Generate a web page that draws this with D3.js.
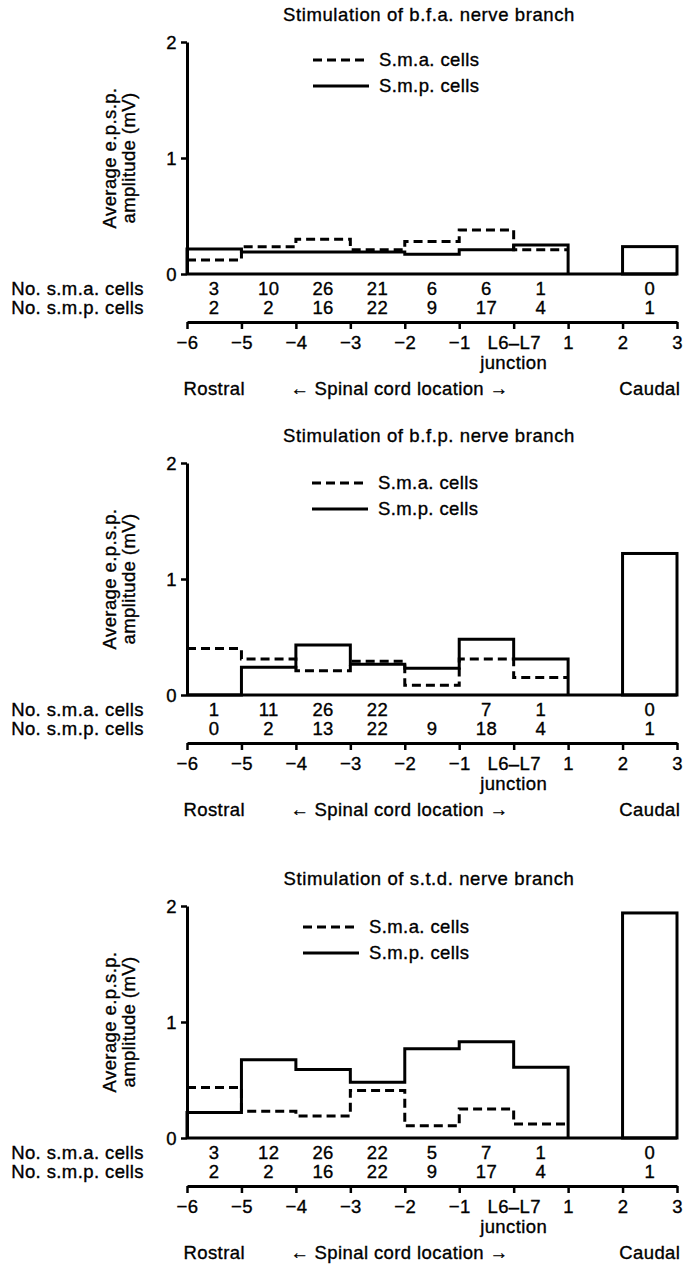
<!DOCTYPE html>
<html>
<head>
<meta charset="utf-8">
<script src="https://cdn.jsdelivr.net/npm/d3@7"></script>
<style>
  body { margin: 0; background: #fff; }
  svg text { font-family: "Liberation Sans", Arial, sans-serif; font-size: 18.5px; fill: #000; stroke: #000; stroke-width: 0.35px; letter-spacing: 0.4px; }
  .title { letter-spacing: 0.6px; }
  .step { fill: none; stroke: #000; stroke-width: 3; stroke-linejoin: miter; }
  .sma { stroke-dasharray: 9 5; }
  .axis .domain { stroke: #000; stroke-width: 3; }
  .axis .tick line { stroke: #000; stroke-width: 2.5; }
</style>
</head>
<body>
<svg width="683" height="1276"></svg>
<script>
// bins along the cord, in segments relative to the L6-L7 junction
const binStarts = [-6, -5, -4, -3, -2, -1, 0, 2];
const xTicks = [-6, -5, -4, -3, -2, -1, 0, 1, 2, 3];
const xTickLabels = ["−6", "−5", "−4", "−3", "−2", "−1", "L6–L7", "1", "2", "3"];
const yTicks = [0, 1, 2];

const titles = [
  "Stimulation of b.f.a. nerve branch",
  "Stimulation of b.f.p. nerve branch",
  "Stimulation of s.t.d. nerve branch"
];

// average e.p.s.p. amplitude (mV), last entry is the caudal bin
const bfaSma = [0.12, 0.235, 0.30, 0.21, 0.28, 0.38, 0.21, null];
const bfaSmp = [0.215, 0.19, 0.19, 0.19, 0.17, 0.21, 0.25, 0.236];
const bfpSma = [0.40, 0.31, 0.21, 0.29, 0.085, 0.31, 0.15, null];
const bfpSmp = [null, 0.24, 0.43, 0.265, 0.23, 0.48, 0.31, 1.22];
const stdSma = [0.435, 0.23, 0.19, 0.41, 0.106, 0.25, 0.12, null];
const stdSmp = [0.22, 0.675, 0.59, 0.48, 0.77, 0.83, 0.61, 1.94];

// cell counts per bin
const bfaSmaN = ["3", "10", "26", "21", "6", "6", "1", "0"];
const bfaSmpN = ["2", "2", "16", "22", "9", "17", "4", "1"];
const bfpSmaN = ["1", "11", "26", "22", "", "7", "1", "0"];
const bfpSmpN = ["0", "2", "13", "22", "9", "18", "4", "1"];
const stdSmaN = ["3", "12", "26", "22", "5", "7", "1", "0"];
const stdSmpN = ["2", "2", "16", "22", "9", "17", "4", "1"];

// panel layout
const panels = [
  { title: titles[0], sma: bfaSma, smp: bfaSmp, smaN: bfaSmaN, smpN: bfaSmpN, top: 42, legendX: 313, legendY: 18 },
  { title: titles[1], sma: bfpSma, smp: bfpSmp, smaN: bfpSmaN, smpN: bfpSmpN, top: 463, legendX: 312, legendY: 20 },
  { title: titles[2], sma: stdSma, smp: stdSmp, smaN: stdSmaN, smpN: stdSmpN, top: 906, legendX: 303, legendY: 21 }
];
const plotHeight = 232;

const svg = d3.select("svg");
svg.append("rect").attr("width", 683).attr("height", 1276).attr("fill", "#fff");

const x = d3.scaleLinear().domain([-6, 3]).range([187, 677]);

const line = d3.line()
  .x(d => x(d[0]))
  .y(d => d[1]);

// turn rostral bins into step outline points
function stepPoints(values, y, closed) {
  const pts = [];
  values.slice(0, 7).forEach((v, i) => {
    const val = v == null ? 0 : v;
    pts.push([binStarts[i], y(val)], [binStarts[i] + 1, y(val)]);
  });
  if (closed) {
    pts.unshift([binStarts[0], y(0)]);
    pts.push([binStarts[6] + 1, y(0)]);
  }
  return pts;
}

panels.forEach(p => {
  const y = d3.scaleLinear().domain([0, 2]).range([p.top + plotHeight, p.top]);
  const g = svg.append("g");
  const base = p.top + plotHeight;
  const axisY = base + 48;

  // title
  g.append("text")
    .attr("class", "title")
    .attr("x", 429)
    .attr("y", p.top - 21)
    .attr("text-anchor", "middle")
    .text(p.title);

  // y axis
  const yAxis = g.append("g")
    .attr("class", "axis")
    .attr("transform", "translate(" + x(-6) + ",0)")
    .call(d3.axisLeft(y).tickValues(yTicks).tickSize(6).tickSizeOuter(0).tickPadding(4).tickFormat(d3.format("d")));
  yAxis.attr("font-size", null).attr("font-family", null);
  yAxis.selectAll(".tick text").attr("dy", "0.35em");

  // y label
  const midY = p.top + plotHeight / 2;
  g.append("text")
    .attr("transform", "translate(116," + midY + ") rotate(-90)")
    .attr("text-anchor", "middle")
    .text("Average e.p.s.p.");
  g.append("text")
    .attr("transform", "translate(135," + midY + ") rotate(-90)")
    .attr("text-anchor", "middle")
    .text("amplitude (mV)");

  // baseline
  g.append("line")
    .attr("x1", x(-6)).attr("x2", x(3))
    .attr("y1", y(0)).attr("y2", y(0))
    .attr("stroke", "#000").attr("stroke-width", 3);

  // steps
  g.append("path")
    .attr("class", "step sma")
    .attr("d", line(stepPoints(p.sma, y, false)));
  g.append("path")
    .attr("class", "step")
    .attr("d", line(stepPoints(p.smp, y, true)));

  // caudal bar
  g.append("rect")
    .attr("x", x(binStarts[7]))
    .attr("y", y(p.smp[7]))
    .attr("width", x(binStarts[7] + 1) - x(binStarts[7]))
    .attr("height", y(0) - y(p.smp[7]))
    .attr("fill", "none")
    .attr("stroke", "#000")
    .attr("stroke-width", 3);

  // legend
  const ly = p.top + p.legendY;
  g.append("line")
    .attr("x1", p.legendX).attr("x2", p.legendX + 56)
    .attr("y1", ly).attr("y2", ly)
    .attr("class", "step sma");
  g.append("text")
    .attr("x", p.legendX + 66).attr("y", ly).attr("dy", "0.35em")
    .text("S.m.a. cells");
  g.append("line")
    .attr("x1", p.legendX).attr("x2", p.legendX + 56)
    .attr("y1", ly + 26).attr("y2", ly + 26)
    .attr("class", "step");
  g.append("text")
    .attr("x", p.legendX + 66).attr("y", ly + 26).attr("dy", "0.35em")
    .text("S.m.p. cells");

  // cell counts
  g.append("text").attr("x", 144).attr("y", base + 21).attr("text-anchor", "end").text("No. s.m.a. cells");
  g.append("text").attr("x", 144).attr("y", base + 40).attr("text-anchor", "end").text("No. s.m.p. cells");
  g.selectAll(".nsma")
    .data(p.smaN)
    .enter()
    .append("text")
    .attr("x", (d, i) => x(binStarts[i] + 0.5))
    .attr("y", base + 21)
    .attr("text-anchor", "middle")
    .text(d => d);
  g.selectAll(".nsmp")
    .data(p.smpN)
    .enter()
    .append("text")
    .attr("x", (d, i) => x(binStarts[i] + 0.5))
    .attr("y", base + 40)
    .attr("text-anchor", "middle")
    .text(d => d);

  // location axis
  const xAxis = g.append("g")
    .attr("class", "axis")
    .attr("transform", "translate(0," + axisY + ")")
    .call(d3.axisBottom(x).tickValues(xTicks).tickSize(7).tickSizeOuter(0).tickPadding(7)
      .tickFormat((d, i) => xTickLabels[i]));
  xAxis.attr("font-size", null).attr("font-family", null);

  g.append("text")
    .attr("x", x(0)).attr("y", axisY + 47)
    .attr("text-anchor", "middle")
    .text("junction");

  g.append("text").attr("x", x(-5.5)).attr("y", axisY + 73).attr("text-anchor", "middle").text("Rostral");
  g.append("text").attr("x", x(2.5)).attr("y", axisY + 73).attr("text-anchor", "middle").text("Caudal");
  g.append("text").attr("x", x(-2.1)).attr("y", axisY + 73).attr("text-anchor", "middle").text("← Spinal cord location →");
});
</script>
</body>
</html>
